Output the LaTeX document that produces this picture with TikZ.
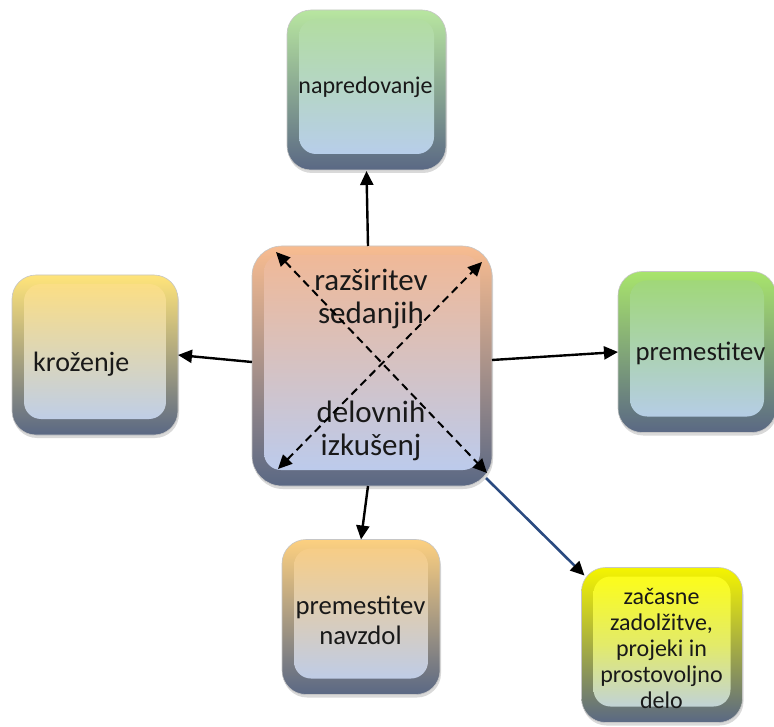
\documentclass[tikz,border=0pt]{standalone}
\usepackage{fontspec}
\setmainfont{Carlito}
\usetikzlibrary{arrows.meta,calc,shadows}
\definecolor{faceblue}{HTML}{B8CCF2}
\definecolor{framedark}{HTML}{5A6884}
\definecolor{gframe}{HTML}{B8E6A0}\definecolor{gface}{HTML}{B2DE9C}
\definecolor{pframe}{HTML}{F8BC90}\definecolor{pface}{HTML}{F2B894}
\definecolor{yoframe}{HTML}{FFE47A}\definecolor{yoface}{HTML}{FFDF7E}
\definecolor{g2frame}{HTML}{A8E46C}\definecolor{g2face}{HTML}{9FD872}
\definecolor{oframe}{HTML}{FDD080}\definecolor{oface}{HTML}{FBCD80}
\definecolor{yframe}{HTML}{F4F400}\definecolor{yface}{HTML}{FFFF10}
\definecolor{navy}{HTML}{2A4A80}
\tikzset{
  bevbox/.style n args={4}{rectangle, rounded corners=#4, draw=gray!45, line width=0.6pt,
    top color=#1, bottom color=framedark, inner sep=0pt, outer sep=0pt,
    drop shadow={shadow xshift=1pt,shadow yshift=-3pt,opacity=0.3},
    path picture={\shade[top color=#2, bottom color=faceblue, middle color=#3, rounded corners=17pt]
      ([xshift=12pt,yshift=-9pt]path picture bounding box.north west) rectangle
      ([xshift=-12pt,yshift=16pt]path picture bounding box.south east);}},
  lbl/.style={align=center, inner sep=0pt, anchor=base, text=black!90},
  tip/.style={Triangle[length=14pt,width=13pt]},
  conn/.style={line width=2.4pt, -{Triangle[length=14pt,width=13pt]}},
  xarrow/.style={line width=2pt, dash pattern=on 8pt off 5pt,
    {Triangle[length=14pt,width=13pt]}-{Triangle[length=14pt,width=13pt]}}
}
\begin{document}
\begin{tikzpicture}[x=1pt,y=-1pt]
\useasboundingbox (0,0) rectangle (774,727);
% boxes
\node[bevbox={gframe}{gface}{gface!50!faceblue}{24pt}, minimum width=159pt, minimum height=160pt] (top) at (366.5,90) {};
\node[bevbox={pframe}{pface}{pface!50!faceblue}{30pt}, minimum width=240pt, minimum height=240pt] (center) at (372,366) {};
\node[bevbox={yoframe}{yoface}{yoface!50!faceblue}{24pt}, minimum width=166pt, minimum height=160pt] (left) at (95,355) {};
\node[bevbox={g2frame}{g2face}{g2face!50!faceblue}{24pt}, minimum width=158pt, minimum height=161pt] (right) at (697,352) {};
\node[bevbox={oframe}{oface}{oface!50!faceblue}{24pt}, minimum width=158pt, minimum height=155pt] (bottom) at (361,617) {};
\node[bevbox={yframe}{yface}{yface!60!faceblue}{24pt}, minimum width=161pt, minimum height=155pt] (br) at (662,645) {};
% texts (base anchor = baseline of last line)
\node[lbl, font=\fontsize{24}{26}\selectfont] (t-top) at (365.5,94) {napredovanje};
\node[lbl, font=\fontsize{28}{30}\selectfont, anchor=base west] (t-left) at (33,372) {kroženje};
\node[lbl, font=\fontsize{26.7}{30}\selectfont] (t-right) at (700.5,361) {premestitev};
\node[lbl, font=\fontsize{26.7}{29.5}\selectfont] (t-bottom) at (360.5,644) {premestitev\\navzdol};
\node[lbl, font=\fontsize{24}{26}\selectfont] (t-br) at (661.5,708) {začasne\\zadolžitve,\\projeki in\\prostovoljno\\delo};
\node[lbl, font=\fontsize{31}{33}\selectfont] (t-center) at (371,455) {razširitev\\sedanjih\\[66pt]delovnih\\izkušenj};
% connectors
\draw[conn] ([xshift=-4pt]center.north) -- ([yshift=-1pt]top.south);
\draw[conn] ([yshift=4pt]center.west) -- (left.east);
\draw[conn] ([yshift=6pt]center.east) -- (right.west);
\draw[conn] ([xshift=-4pt]center.south) -- (bottom.north);
\draw[line width=2.6pt, navy, -{Triangle[length=14pt,width=13pt,color=black]}] ([shift={(-6,-8)}]center.south east) -- ([shift={(3,8)}]br.north west);
% dashed X
\draw[xarrow] ([shift={(24,6)}]center.north west) -- ([shift={(-5,-13)}]center.south east);
\draw[xarrow] ([shift={(26,-17)}]center.south west) -- ([shift={(-10,16)}]center.north east);
\end{tikzpicture}
\end{document}
